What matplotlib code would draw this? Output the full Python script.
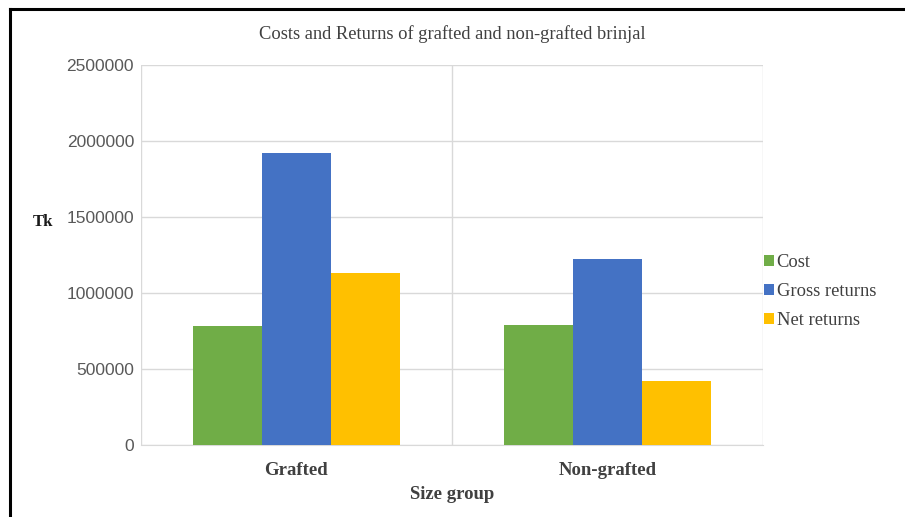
import matplotlib
matplotlib.use('Agg')
import matplotlib.pyplot as plt
import numpy as np

groups = ['Grafted', 'Non-grafted']
series = ['Cost', 'Gross returns', 'Net returns']
cost = [785000, 791000]
gross = [1919000, 1224000]
net = [1129000, 421000]
colors = ['#70ad47', '#4472c4', '#ffc000']

fig = plt.figure(figsize=(9.05, 5.17), dpi=100)
ax = fig.add_axes([0.1558, 0.1393, 0.687, 0.735])

x = np.arange(len(groups))
w = 0.222
for i, (vals, name) in enumerate(zip([cost, gross, net], series)):
    ax.bar(x + (i - 1) * w, vals, w, color=colors[i], label=name, zorder=3)

ax.set_xlim(-0.5, 1.5)
ax.set_ylim(0, 2500000)
ax.set_yticks(np.arange(0, 2500001, 500000))
ax.set_xticks(x)
ax.set_xticks([-0.5, 0.5, 1.5], minor=True)
ax.grid(True, axis='y', color='#d9d9d9', lw=1, zorder=0)
ax.grid(True, axis='x', which='minor', color='#d9d9d9', lw=1, zorder=0)
ax.tick_params(which='both', length=0)
for s in ['top', 'right', 'left']:
    ax.spines[s].set_visible(False)
ax.spines['bottom'].set_color('#d9d9d9')

ax.set_yticklabels([str(v) for v in range(0, 2500001, 500000)],
                   fontsize=12.5, color='#595959', family='Liberation Sans')
ax.set_xticklabels(groups, fontsize=13.5, fontweight='bold', color='#404040',
                   family='Liberation Serif')
ax.tick_params(axis='y', pad=5)
ax.tick_params(axis='x', pad=12)
ax.set_xlabel('Size group', fontsize=13.5, fontweight='bold', color='#404040',
              family='Liberation Serif', labelpad=5)
ax.set_title('Costs and Returns of grafted and non-grafted brinjal', fontsize=13.3,
             color='#404040', family='Liberation Serif', pad=19)

# currency sign (taka), no installed font has the glyph
fig.text(0.047, 0.571, 'Tk', fontsize=12, fontweight='bold', color='#1a1a1a',
         family='Liberation Serif', ha='center', va='center')

ax.legend(loc='center left', bbox_to_anchor=(0.975, 0.403), frameon=False,
          prop={'family': 'Liberation Serif', 'size': 13.3}, labelcolor='#404040',
          handlelength=0.55, handleheight=0.55, handletextpad=0.15, labelspacing=0.65)

# outer frame
fig.add_artist(plt.Line2D([0.011, 0.011], [0, 0.983], color='black', lw=2.2,
                          transform=fig.transFigure))
fig.add_artist(plt.Line2D([0.011, 1], [0.983, 0.983], color='black', lw=2.2,
                          transform=fig.transFigure))

fig.savefig('out.png', dpi=100)
